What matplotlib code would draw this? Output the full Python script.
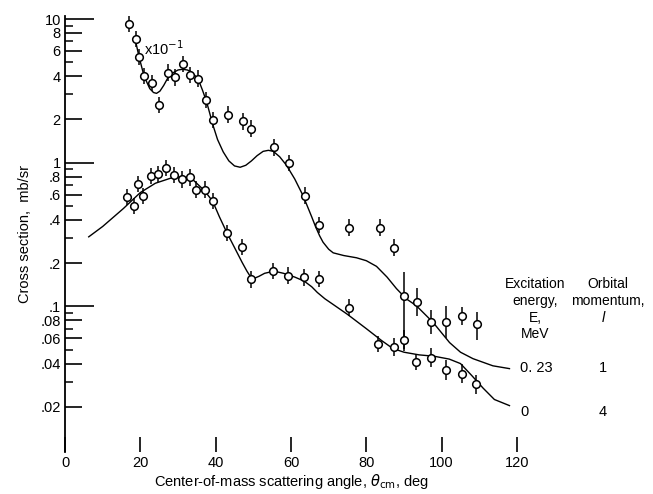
import numpy as np
import matplotlib.pyplot as plt
from matplotlib.ticker import FixedLocator, NullFormatter

plt.rcParams['font.family'] = ['Liberation Sans', 'DejaVu Sans']

# measured points, E = 0.23 MeV (upper set, x10^-1)
x_up = [16.9, 18.8, 19.7, 21.0, 23.1, 25.0, 27.3, 29.3, 31.2, 33.2, 35.3, 37.4, 39.2,
        43.2, 47.3, 49.4, 55.4, 59.5, 63.6, 67.4, 75.4, 83.6, 87.4, 90.1, 93.5, 97.3,
        101.2, 105.3, 109.4]
y_up = [9.26, 7.23, 5.42, 4.02, 3.57, 2.51, 4.24, 3.93, 4.88, 4.10, 3.85, 2.73, 1.98,
        2.16, 1.94, 1.73, 1.28, 1.00, 0.59, 0.37, 0.354, 0.354, 0.257, 0.118, 0.107, 0.078,
        0.078, 0.0855, 0.075]
hi_up = [0.14] * 23 + [0.47, 0.25, 0.22, 0.30, 0.16, 0.22]
lo_up = [0.14] * 23 + [1.41, 0.25, 0.22, 0.30, 0.16, 0.28]

# measured points, E = 0 (lower set)
x_lo = [16.4, 18.3, 19.5, 20.8, 22.7, 24.8, 26.8, 28.9, 31.0, 33.2, 34.9, 37.1, 39.2,
        42.9, 47.1, 49.3, 55.3, 59.3, 63.4, 67.4, 75.4, 83.2, 87.3, 90.1, 93.3, 97.3,
        101.2, 105.3, 109.2]
y_lo = [0.58, 0.50, 0.71, 0.586, 0.81, 0.834, 0.918, 0.825, 0.765, 0.79, 0.65, 0.65, 0.54,
        0.325, 0.26, 0.154, 0.177, 0.164, 0.159, 0.155, 0.098, 0.0545, 0.052, 0.058, 0.041,
        0.044, 0.036, 0.034, 0.0287]
hi_lo = [0.14] * 22 + [0.16, 0.18, 0.14, 0.16, 0.18, 0.16, 0.16]
lo_lo = [0.14] * 22 + [0.16, 0.14, 0.14, 0.16, 0.18, 0.16, 0.16]

# calculated curves
cx_up = [18.8, 19.7, 21.0, 22.5, 23.5, 24.3, 25.2, 26.2, 27.2, 28.5, 30.0, 31.2, 32.5,
         33.5, 35.3, 36.5, 37.6, 39.3, 40.5, 42.0, 43.5, 45.0, 46.5, 48.0, 49.5, 51.0,
         52.6, 54.0, 55.3, 57.0, 58.8, 61.0, 63.2, 65.5, 66.5, 67.6, 68.5, 70.0, 71.2,
         74.0, 77.4, 80.0, 82.7, 85.5, 88.0, 90.6, 93.3, 97.7, 102.1, 105.0, 108.3,
         113.6, 118.0]
cy_up = [6.9, 5.4, 4.0, 3.28, 3.08, 3.04, 3.15, 3.45, 3.85, 4.2, 4.42, 4.47, 4.42,
         4.3, 3.85, 3.2, 2.65, 1.82, 1.45, 1.19, 1.03, 0.95, 0.93, 0.96, 1.03, 1.12,
         1.2, 1.22, 1.2, 1.1, 0.96, 0.77, 0.59, 0.42, 0.36, 0.31, 0.28, 0.25, 0.236,
         0.226, 0.218, 0.208, 0.19, 0.16, 0.133, 0.113, 0.101, 0.0775, 0.056, 0.048, 0.0433,
         0.0386, 0.0369]

cx_lo = [6.3, 10.0, 15.5, 20.0, 24.0, 28.0, 31.0, 34.0, 37.0, 39.2, 41.0, 43.0, 45.0,
         47.0, 48.3, 49.3, 50.3, 51.5, 53.0, 55.5, 58.0, 61.0, 63.5, 65.5, 67.0, 69.0,
         71.0, 75.0, 80.0, 84.0, 87.0, 90.0, 94.0, 98.0, 102.0, 105.0, 108.0, 111.0,
         114.0, 118.0]
cy_lo = [0.305, 0.36, 0.48, 0.62, 0.72, 0.78, 0.80, 0.76, 0.64, 0.54, 0.42, 0.325, 0.257,
         0.203, 0.176, 0.160, 0.157, 0.162, 0.170, 0.176, 0.170, 0.160, 0.150, 0.137,
         0.125, 0.113, 0.104, 0.088, 0.070, 0.058, 0.051, 0.048, 0.046, 0.045, 0.043,
         0.040, 0.033, 0.027, 0.0225, 0.0204]

W, H = 653, 494
fig = plt.figure(figsize=(W / 100, H / 100), dpi=100)
ax = fig.add_axes([65 / W, 1 - 452 / H, (517 - 65) / W, (452 - 16) / H])

ax.plot(cx_up, cy_up, color='black', lw=1.0)
ax.plot(cx_lo, cy_lo, color='black', lw=1.0)

for xs, ys, hi, lo in [(x_up, y_up, hi_up, lo_up), (x_lo, y_lo, hi_lo, lo_lo)]:
    ys = np.array(ys)
    yerr = [ys - ys / (1 + np.array(lo)), ys * np.array(hi)]
    ax.errorbar(xs, ys, yerr=yerr, fmt='o', ms=5.5, mfc='white', mec='black', mew=1.1,
                ecolor='black', elinewidth=1.1, capsize=0, zorder=3)

ax.set_yscale('log')
ax.set_xlim(0, 120)
ax.set_ylim(0.0097, 10.5)

for s in ['top', 'right', 'bottom']:
    ax.spines[s].set_visible(False)
ax.spines['left'].set_linewidth(1.3)

# x ticks
ax.set_xticks([0, 20, 40, 60, 80, 100, 120])
ax.tick_params(axis='x', direction='in', length=11, width=1.2, pad=3, labelsize=10.5)

# y ticks
labeled = [10, 8, 6, 4, 2, 1, 0.8, 0.6, 0.4, 0.2, 0.1, 0.08, 0.06, 0.04, 0.02]
ylabels = ['10', '8', '6', '4', '2', '1', '.8', '.6', '.4', '.2', '.1', '.08', '.06', '.04', '.02']
unlabeled = [9, 7, 5, 3, 0.9, 0.7, 0.5, 0.3, 0.09, 0.07, 0.05, 0.03]
ax.yaxis.set_major_locator(FixedLocator(labeled))
ax.set_yticklabels(ylabels)
ax.yaxis.set_minor_locator(FixedLocator(unlabeled))
ax.yaxis.set_minor_formatter(NullFormatter())
ax.tick_params(axis='y', which='major', direction='in', length=12, width=1.2, pad=3, labelsize=10.5)
ax.tick_params(axis='y', which='minor', direction='in', length=6, width=1.1)
for t, v in zip(ax.yaxis.get_major_ticks(), labeled):
    if v in (10, 1, 0.1):
        t.tick1line.set_markersize(21)

ax.set_xlabel(r'Center-of-mass scattering angle, $\theta_{\rm cm}$, deg', fontsize=10.5, labelpad=1)
ax.set_ylabel('Cross section,  mb/sr', fontsize=10.5, labelpad=6)

ax.text(21.0, 6.2, r'x10$^{-1}$', fontsize=10.5, va='center', ha='left')

fig.text(535 / W, 1 - 277 / H, 'Excitation\nenergy,\nE,\nMeV', ha='center', va='top',
         fontsize=10, linespacing=1.25)
fig.text(608 / W, 1 - 277 / H, 'Orbital\nmomentum,', ha='center', va='top',
         fontsize=10, linespacing=1.25)
fig.text(603 / W, 1 - 318 / H, 'l', ha='center', va='center', fontsize=10.5, style='italic')
fig.text(520 / W, 1 - 368 / H, '0. 23', ha='left', va='center', fontsize=10.5)
fig.text(603 / W, 1 - 368 / H, '1', ha='center', va='center', fontsize=10.5)
fig.text(520 / W, 1 - 412 / H, '0', ha='left', va='center', fontsize=10.5)
fig.text(603 / W, 1 - 412 / H, '4', ha='center', va='center', fontsize=10.5)

fig.savefig('out.png', dpi=100)
